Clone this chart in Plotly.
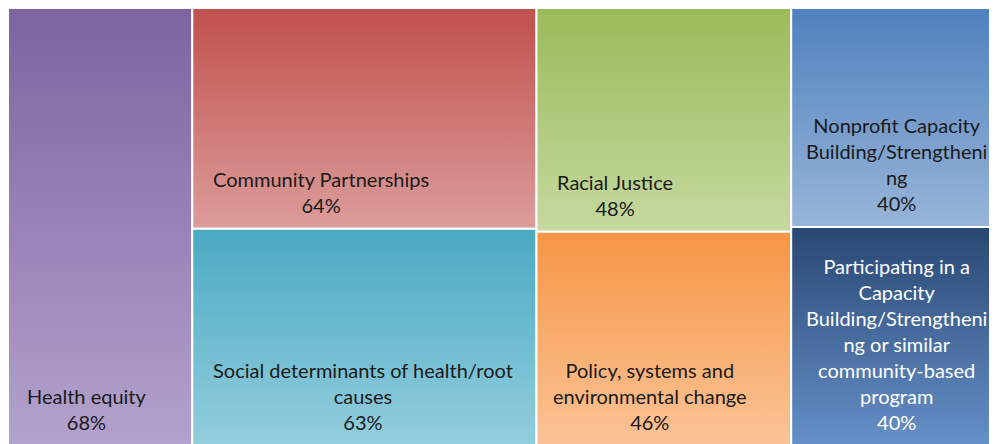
import plotly.graph_objects as go

# ---- data ----
categories = [
    "Health equity",
    "Community Partnerships",
    "Social determinants of health/root causes",
    "Racial Justice",
    "Policy, systems and environmental change",
    "Nonprofit Capacity Building/Strengthening",
    "Participating in a Capacity Building/Strengthening or similar community-based program",
]
display_labels = [
    "Health equity",
    "Community Partnerships",
    "Social determinants of health/root<br>causes",
    "Racial Justice",
    "Policy, systems and<br>environmental change",
    "Nonprofit Capacity<br>Building/Strengtheni<br>ng",
    "Participating in a<br>Capacity<br>Building/Strengtheni<br>ng or similar<br>community-based<br>program",
]
values = [68, 64, 63, 48, 46, 40, 40]
column = [0, 1, 1, 2, 2, 3, 3]

# ---- styles ----
top_colors = ["#7D63A0", "#C0504D", "#4AA9C4", "#9BBB59", "#F79646", "#4F81BD", "#284773"]
bottom_colors = ["#B3A2CD", "#DC9D9B", "#93CEDD", "#C6D9A0", "#FAC396", "#98B5D9", "#6690C8"]
text_colors = ["#1a1a1a"] * 6 + ["#ffffff"]
label_dx = [17, 19, 19, 19, 15, 13, 13]   # label inset from cell's left edge, px
FONT = "Lato"

total = sum(values)
ncol = max(column) + 1
col_tot = [sum(v for v, c in zip(values, column) if c == k) for k in range(ncol)]
col_x0 = [sum(col_tot[:k]) for k in range(ncol)]

fig = go.Figure()
used = [0.0] * ncol
for i, (v, c) in enumerate(zip(values, column)):
    x0 = col_x0[c]
    x1 = x0 + col_tot[c]
    ytop = 1 - used[c] / col_tot[c]
    used[c] += v
    ybot = 1 - used[c] / col_tot[c]
    fig.add_trace(go.Scatter(
        x=[x0, x1, x1, x0, x0],
        y=[ybot, ybot, ytop, ytop, ybot],
        mode="lines",
        fill="toself",
        line=dict(color="white", width=2),
        fillgradient=dict(
            type="vertical",
            colorscale=[[0, bottom_colors[i]], [1, top_colors[i]]],
        ),
        name=categories[i],
        hoverinfo="text",
        text=f"{categories[i]}: {v}%",
        showlegend=False,
    ))
    fig.add_annotation(
        x=x0, y=ybot, xref="x", yref="y",
        xanchor="left", yanchor="bottom",
        xshift=label_dx[i], yshift=10,
        text=f"{display_labels[i]}<br>{v}%",
        align="center",
        showarrow=False,
        font=dict(family=FONT, size=20, color=text_colors[i]),
    )

fig.update_xaxes(range=[0, total * 997 / 1000], visible=False, fixedrange=True)
fig.update_yaxes(range=[1 - 444 / 438, 1], visible=False, fixedrange=True)
fig.update_layout(
    width=997, height=444,
    margin=dict(l=0, r=0, t=0, b=0),
    paper_bgcolor="white", plot_bgcolor="white",
    showlegend=False,
)
fig.write_html("out.html")
